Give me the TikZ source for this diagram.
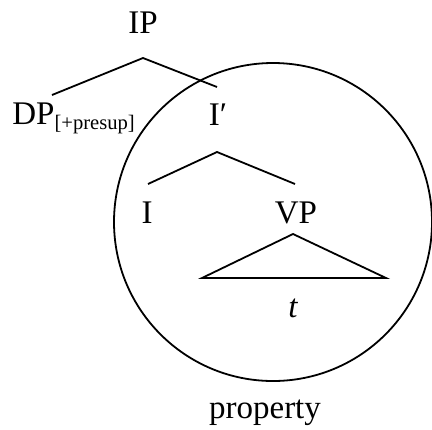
\documentclass[tikz,border=0pt]{standalone}
\usepackage{fontspec}
\setmainfont{Liberation Serif}
\usetikzlibrary{positioning, calc}

\begin{document}
\begin{tikzpicture}[x=0.5pt, y=-0.5pt, line width=0.9pt,
    lbl/.style={anchor=base, inner sep=0pt, font=\fontsize{16.5}{19}\selectfont},
    sublbl/.style={font=\fontsize{10.3}{12}\selectfont}]
    \useasboundingbox (0,0) rectangle (432,429);
    % category labels
    \node[lbl] (ip) at (143,33) {IP};
    \node[lbl, anchor=base west] (dp) at (11.5,124)
        {DP\raisebox{-2.5pt}{\fontsize{10.3}{12}\selectfont[+presup]}};
    \node[lbl] (ibar) at (218,125) {I′};
    \node[lbl] (i) at (147,223) {I};
    \node[lbl] (vp) at (296,223) {VP};
    \node[lbl] (trace) at (293,317) {\itshape t};
    \node[lbl] (prop) at (265,418) {property};

    % branch points
    \coordinate (ipTop) at (143,58);
    \coordinate (dpEnd) at (52,95);
    \coordinate (ibarEnd) at (217,87);
    \coordinate (ibarTop) at (217,152);
    \coordinate (iEnd) at (148,184);
    \coordinate (vpEnd) at (295,184);
    \coordinate (triTop) at (293,234);
    \coordinate (triL) at (202,278);
    \coordinate (triR) at (386,278);
    \coordinate (ctr) at (273,222);

    \draw (dpEnd) -- (ipTop) -- (ibarEnd);
    \draw (iEnd) -- (ibarTop) -- (vpEnd);
    \draw (triTop) -- (triL) -- (triR) -- cycle;
    \draw (ctr) circle[radius=159];
\end{tikzpicture}
\end{document}
